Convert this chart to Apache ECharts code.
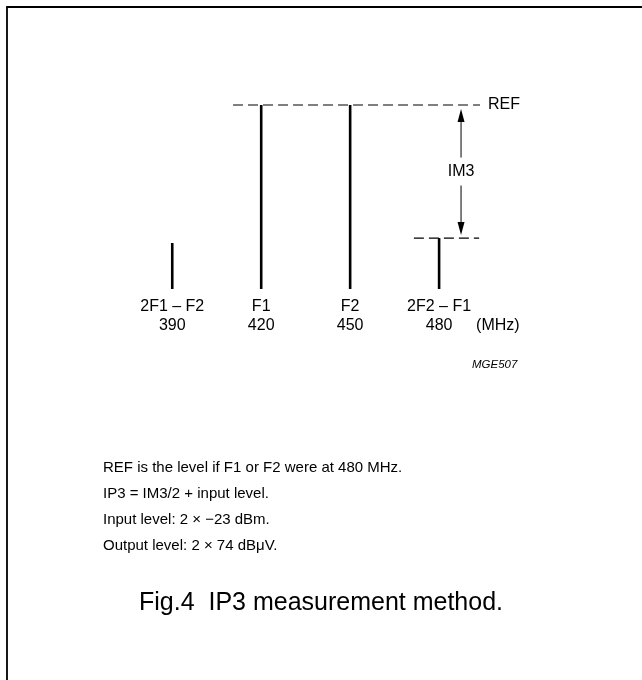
<!DOCTYPE html>
<html>
<head>
<meta charset="utf-8">
<script src="https://cdn.jsdelivr.net/npm/echarts@6/dist/echarts.min.js"></script>
<style>
html,body{margin:0;padding:0;background:#fff;}
#chart{width:642px;height:680px;}
</style>
</head>
<body>
<div id="chart"></div>
<script>
// ---- data ----
const categories = ['2F1 \u2013 F2', 'F1', 'F2', '2F2 \u2013 F1'];
const freqs = [390, 420, 450, 480];
const levels = [25, 100, 100, 27.7];
const refLevel = 100;
const im3Level = 27.7;
const refSpan = [410.5, 493.8];
const im3Span = [471.5, 493.5];
const arrowX = 487.4;
const refLabel = 'REF';
const im3Label = 'IM3';
const unitLabel = '(MHz)';
const figId = 'MGE507';
const notes = [
  'REF is the level if F1 or F2 were at 480 MHz.',
  'IP3 = IM3/2 + input level.',
  'Input level: 2 \u00d7 \u221223 dBm.',
  'Output level: 2 \u00d7 74 dB\u03bcV.'
];
const caption = 'Fig.4  IP3 measurement method.';

const FONT = '"Liberation Sans", Arial, Helvetica, sans-serif';
const chart = echarts.init(document.getElementById('chart'));

const stickData = freqs.map((f, i) => [f, levels[i], i]);

const option = {
  animation: false,
  backgroundColor: '#ffffff',
  grid: { left: 24, right: 25, top: 105, bottom: 391 },
  xAxis: { type: 'value', min: 340, max: 540, show: false },
  yAxis: { type: 'value', min: 0, max: 100, show: false },
  graphic: [
    { type: 'rect', shape: { x: 7, y: 7, width: 700, height: 700 },
      style: { fill: 'none', stroke: '#000', lineWidth: 1.8 } },
    { type: 'text', left: 472, top: 359,
      style: { text: figId, font: 'italic 11.5px ' + FONT, fill: '#000' } }
  ].concat(notes.map((t, i) => ({
    type: 'text', left: 103, top: 460 + i * 26,
    style: { text: t, font: '15px ' + FONT, fill: '#000' }
  }))).concat([
    { type: 'text', left: 'center', top: 591,
      style: { text: caption, font: '25px ' + FONT, fill: '#000' } }
  ]),
  series: [
    {
      type: 'custom',
      data: stickData,
      renderItem: function (params, api) {
        const x = api.value(0), y = api.value(1), idx = api.value(2);
        const p0 = api.coord([x, 0]);
        const p1 = api.coord([x, y]);
        const children = [
          { type: 'line', shape: { x1: p0[0], y1: p0[1], x2: p1[0], y2: p1[1] },
            style: { stroke: '#000', lineWidth: 2.6 } },
          { type: 'text', style: { text: categories[idx], x: p0[0], y: p0[1] + 18,
            align: 'center', verticalAlign: 'middle', font: '16px ' + FONT, fill: '#000' } },
          { type: 'text', style: { text: String(x), x: p0[0], y: p0[1] + 37,
            align: 'center', verticalAlign: 'middle', font: '16px ' + FONT, fill: '#000' } }
        ];
        if (idx === freqs.length - 1) {
          children.push({ type: 'text', style: { text: unitLabel, x: p0[0] + 37, y: p0[1] + 37,
            align: 'left', verticalAlign: 'middle', font: '16px ' + FONT, fill: '#000' } });
        }
        return { type: 'group', children: children };
      }
    },
    {
      type: 'custom',
      data: [[refSpan[0], refSpan[1], refLevel, 0], [im3Span[0], im3Span[1], im3Level, 1]],
      renderItem: function (params, api) {
        const a = api.coord([api.value(0), api.value(2)]);
        const b = api.coord([api.value(1), api.value(2)]);
        const children = [
          { type: 'line', shape: { x1: a[0], y1: a[1], x2: b[0], y2: b[1] },
            style: { stroke: '#000', lineWidth: 1.2, lineDash: [10, 5] } }
        ];
        if (api.value(3) === 0) {
          children.push({ type: 'text', style: { text: refLabel, x: b[0] + 8, y: b[1],
            align: 'left', verticalAlign: 'middle', font: '16px ' + FONT, fill: '#000' } });
        }
        return { type: 'group', children: children };
      }
    },
    {
      type: 'custom',
      data: [[arrowX, refLevel, im3Level]],
      renderItem: function (params, api) {
        const t = api.coord([api.value(0), api.value(1)]);
        const b = api.coord([api.value(0), api.value(2)]);
        const x = t[0];
        const yTop = t[1] + 4, yBot = b[1] - 3;
        const mid = (t[1] + b[1]) / 2;
        const hl = 13, hw = 3.5;
        return { type: 'group', children: [
          { type: 'line', shape: { x1: x, y1: yTop + hl - 1, x2: x, y2: mid - 14 },
            style: { stroke: '#000', lineWidth: 1 } },
          { type: 'line', shape: { x1: x, y1: mid + 14, x2: x, y2: yBot - hl + 1 },
            style: { stroke: '#000', lineWidth: 1 } },
          { type: 'polygon', shape: { points: [[x, yTop], [x - hw, yTop + hl], [x + hw, yTop + hl]] },
            style: { fill: '#000' } },
          { type: 'polygon', shape: { points: [[x, yBot], [x - hw, yBot - hl], [x + hw, yBot - hl]] },
            style: { fill: '#000' } },
          { type: 'text', style: { text: im3Label, x: x, y: mid,
            align: 'center', verticalAlign: 'middle', font: '16px ' + FONT, fill: '#000' } }
        ] };
      }
    }
  ]
};
chart.setOption(option);
</script>
</body>
</html>
